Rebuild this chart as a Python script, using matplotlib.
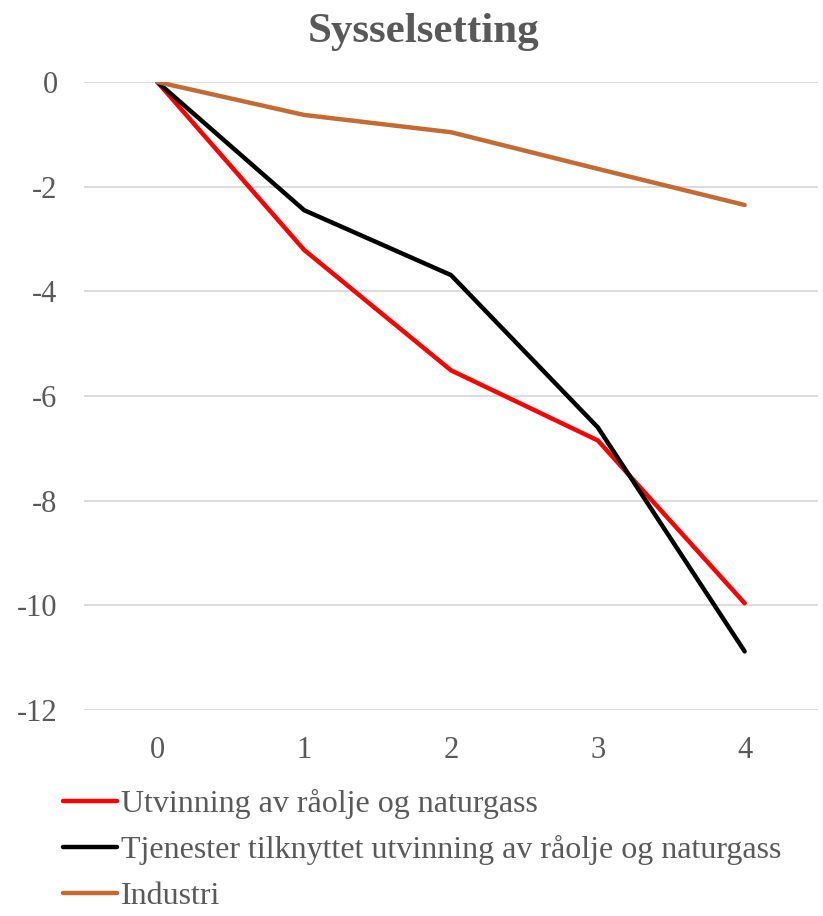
import matplotlib
matplotlib.use('Agg')
import matplotlib.pyplot as plt

# data
years = [0, 1, 2, 3, 4]
utvinning = [0, -3.21, -5.51, -6.85, -9.96]
tjenester = [0, -2.45, -3.69, -6.60, -10.88]
industri = [0, -0.63, -0.96, -1.66, -2.35]
labels = ['Utvinning av råolje og naturgass',
          'Tjenester tilknyttet utvinning av råolje og naturgass',
          'Industri']
yticks = [0, -2, -4, -6, -8, -10, -12]

grey = '#595959'
plt.rcParams['font.family'] = ['Liberation Serif', 'DejaVu Serif']

fig = plt.figure(figsize=(8.23, 9.16), dpi=100)
ax = fig.add_axes([0.102, 0.2249, 0.892, 0.6856])

lw = 3.2
ax.plot(years, utvinning, color='#FF0000', lw=lw, solid_capstyle='round', label=labels[0], zorder=3)
ax.plot(years, tjenester, color='#000000', lw=lw, solid_capstyle='round', label=labels[1], zorder=3)
ax.plot(years, industri, color='#C46A32', lw=lw, solid_capstyle='round', label=labels[2], zorder=3)

ax.set_xlim(-0.5, 4.5)
ax.set_ylim(-12, 0)
ax.set_xticks(years)
ax.set_yticks(yticks)
ax.set_yticklabels([str(v) for v in yticks])
ax.grid(axis='y', color='#D9D9D9', lw=1.3, zorder=0)
ax.set_axisbelow(True)
ax.tick_params(length=0, labelsize=22, colors=grey)
ax.tick_params(axis='x', pad=19)
ax.tick_params(axis='y', pad=19)
for s in ax.spines.values():
    s.set_visible(False)

fig.text(0.515, 0.965, 'Sysselsetting', ha='center', va='center',
         fontsize=31, fontweight='bold', color=grey)

leg = fig.legend(loc='upper left', bbox_to_anchor=(0.076, 0.139), frameon=False,
                 fontsize=23, handlelength=1.72, handletextpad=0.12, labelspacing=0.52,
                 borderaxespad=0, borderpad=0)
for t in leg.get_texts():
    t.set_color(grey)

fig.savefig('out.png', dpi=100)
